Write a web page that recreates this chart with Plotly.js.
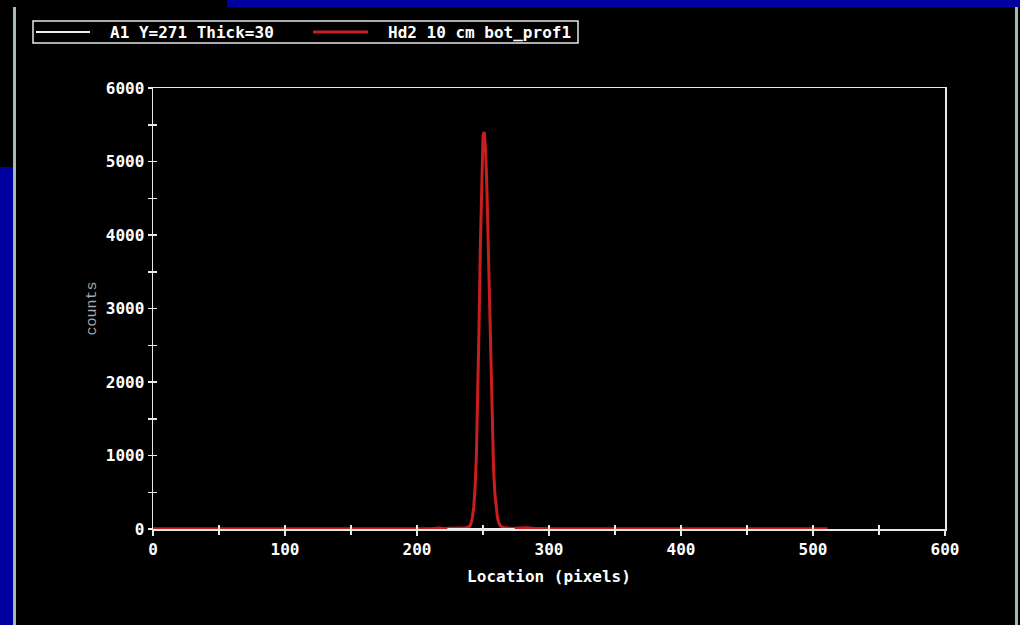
<!DOCTYPE html>
<html>
<head>
<meta charset="utf-8">
<script src="https://cdn.plot.ly/plotly-3.0.1.min.js"></script>
<style>
  html, body { margin:0; padding:0; background:#000; width:1020px; height:625px; overflow:hidden; }
  #chart { position:absolute; left:0; top:0; width:1020px; height:625px; }
  .deco { position:absolute; }
</style>
</head>
<body>
<div id="chart"></div>
<div class="deco" style="left:227px;top:0;width:793px;height:7px;background:#0000a0;"></div>
<div class="deco" style="left:0;top:167px;width:13px;height:458px;background:#0000a0;"></div>
<div class="deco" style="left:13px;top:7px;width:3px;height:618px;background:#a4bcae;"></div>
<div class="deco" style="left:1015px;top:7px;width:3px;height:618px;background:#a4bcae;"></div>
<script>
// Series "Hd2 10 cm bot_prof1" (red)
const redX = [0, 20, 50, 80, 100, 130, 150, 180, 200, 210, 217, 220, 225, 230, 235, 238, 240, 241, 242, 243, 244, 245, 246, 247, 248, 249, 250, 251, 252, 253, 254, 255, 256, 257, 258, 259, 260, 261, 262, 263, 265, 268, 272, 278, 283, 288, 295, 300, 330, 360, 400, 430, 460, 490, 511];
const redY = [2, 2, 3, 2, 3, 2, 3, 3, 4, 5, 15, 8, 10, 8, 12, 20, 40, 80, 160, 300, 560, 1000, 1750, 2750, 3850, 4800, 5350, 5400, 5150, 4600, 3800, 2900, 2050, 1350, 820, 480, 270, 150, 85, 45, 22, 12, 8, 15, 18, 10, 6, 5, 4, 3, 3, 2, 3, 2, 2];
// Series "A1 Y=271 Thick=30" (white)
const whiteX = [223, 274];
const whiteY = [0, 0];

const seriesNames = ['A1 Y=271 Thick=30', 'Hd2 10 cm bot_prof1'];
const seriesColors = ['#f0f0f0', '#c81e1e'];

const xTickVals = [0, 100, 200, 300, 400, 500, 600];
const xTickText = ['0', '100', '200', '300', '400', '500', '600'];
const yTickVals = [0, 1000, 2000, 3000, 4000, 5000, 6000];
const yTickText = ['0', '1000', '2000', '3000', '4000', '5000', '6000'];

const monoBold = {family: 'DejaVu Sans Mono', size: 16, color: '#ffffff', weight: 'bold'};
const lineCol = '#e8e8e8';

const traces = [
  {x: redX, y: redY, type: 'scatter', mode: 'lines', name: seriesNames[1],
   line: {color: seriesColors[1], width: 3}},
  {x: whiteX, y: whiteY, type: 'scatter', mode: 'lines', name: seriesNames[0],
   line: {color: seriesColors[0], width: 2}},
  {x: [null], y: [null], xaxis: 'x2', yaxis: 'y2', showlegend: false, hoverinfo: 'skip', type: 'scatter', mode: 'lines'}
];

// legend geometry in paper coordinates (plot area: x 153..945, y 88..529)
const px = v => (v - 153) / 792;
const py = v => (529 - v) / 441;

const shapes = [
  {type: 'rect', xref: 'paper', yref: 'paper', x0: px(33), x1: px(578), y0: py(43), y1: py(21),
   line: {color: lineCol, width: 1.5}, fillcolor: '#000'},
  {type: 'line', xref: 'paper', yref: 'paper', x0: px(36), x1: px(90), y0: py(32), y1: py(32),
   line: {color: seriesColors[0], width: 2}},
  {type: 'line', xref: 'paper', yref: 'paper', x0: px(313), x1: px(368), y0: py(32), y1: py(32),
   line: {color: seriesColors[1], width: 3}}
];
const annotations = [
  {xref: 'paper', yref: 'paper', x: px(108), y: py(32), xanchor: 'left', yanchor: 'middle',
   text: seriesNames[0], showarrow: false, font: monoBold},
  {xref: 'paper', yref: 'paper', x: px(386), y: py(32), xanchor: 'left', yanchor: 'middle',
   text: seriesNames[1], showarrow: false, font: monoBold}
];

const axisCommon = {
  showgrid: false, zeroline: false, showline: true, linecolor: lineCol, linewidth: 1.5,
  tickcolor: lineCol, tickwidth: 1.5, mirror: true
};

const layout = {
  width: 1020, height: 625,
  paper_bgcolor: '#000', plot_bgcolor: '#000',
  margin: {l: 153, r: 75, t: 88, b: 96, autoexpand: false},
  showlegend: false,
  shapes: shapes,
  annotations: annotations,
  xaxis: Object.assign({}, axisCommon, {
    range: [0, 600], tickmode: 'array', tickvals: xTickVals, ticktext: xTickText,
    ticks: 'outside', ticklen: 5, tickfont: monoBold,
    minor: {dtick: 50, tick0: 0, ticks: 'outside', ticklen: 4, tickcolor: lineCol, tickwidth: 1.5},
    title: {text: 'Location (pixels)', font: monoBold, standoff: 13}
  }),
  yaxis: Object.assign({}, axisCommon, {
    range: [0, 6000], tickmode: 'array', tickvals: yTickVals, ticktext: yTickText,
    ticks: 'outside', ticklen: 4, tickfont: monoBold,
    minor: {dtick: 500, tick0: 0, ticks: 'outside', ticklen: 4, tickcolor: lineCol, tickwidth: 1.5},
    title: {text: 'counts', font: {family: 'Liberation Mono', size: 15, color: '#a8a8a8'}, standoff: 5}
  }),
  xaxis2: {overlaying: 'x', range: [0, 600], showgrid: false, zeroline: false, showline: false,
    tickmode: 'array', tickvals: xTickVals, ticks: 'inside', ticklen: 4, tickcolor: lineCol, tickwidth: 1.5,
    showticklabels: false, side: 'bottom',
    minor: {dtick: 50, tick0: 0, ticks: 'inside', ticklen: 4, tickcolor: lineCol, tickwidth: 1.5}},
  yaxis2: {overlaying: 'y', range: [0, 6000], showgrid: false, zeroline: false, showline: false,
    tickmode: 'array', tickvals: yTickVals, ticks: 'inside', ticklen: 4, tickcolor: lineCol, tickwidth: 1.5,
    showticklabels: false, side: 'left',
    minor: {dtick: 500, tick0: 0, ticks: 'inside', ticklen: 4, tickcolor: lineCol, tickwidth: 1.5}}
};

Plotly.newPlot('chart', traces, layout, {staticPlot: true, displayModeBar: false});
</script>
</body>
</html>
